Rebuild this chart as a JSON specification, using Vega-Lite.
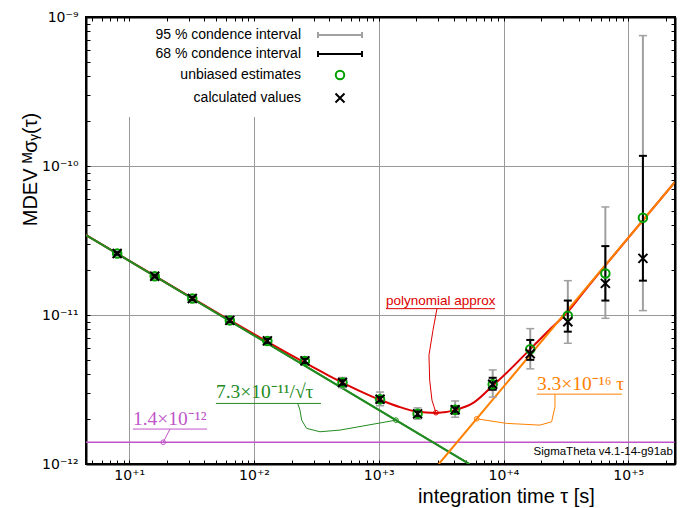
{
  "$schema": "https://vega.github.io/schema/vega-lite/v6.json",
  "width": 589,
  "height": 447,
  "autosize": {"type": "none"},
  "padding": {"left": 86, "top": 17, "right": 8, "bottom": 44},
  "background": "white",
  "config": {
    "view": {"stroke": "black", "strokeWidth": 2},
    "axis": {
      "labelFont": "DejaVu Sans",
      "labelFontSize": 14,
      "labelColor": "black",
      "labelFlush": false,
      "labelOverlap": false,
      "labelBound": false,
      "tickColor": "black",
      "tickWidth": 1,
      "domainColor": "black",
      "domainWidth": 2,
      "gridColor": "#999999",
      "gridWidth": 1
    }
  },
  "datasets": {
    "main": [
      {"tau": 8, "unb": 2.59e-11, "calc": 2.59e-11, "lo95": 2.50e-11, "hi95": 2.68e-11, "lo68": 2.54e-11, "hi68": 2.64e-11},
      {"tau": 16, "unb": 1.82e-11, "calc": 1.82e-11, "lo95": 1.75e-11, "hi95": 1.89e-11, "lo68": 1.79e-11, "hi68": 1.86e-11},
      {"tau": 32, "unb": 1.29e-11, "calc": 1.29e-11, "lo95": 1.23e-11, "hi95": 1.35e-11, "lo68": 1.26e-11, "hi68": 1.32e-11},
      {"tau": 64, "unb": 9.2e-12, "calc": 9.2e-12, "lo95": 8.7e-12, "hi95": 9.7e-12, "lo68": 8.95e-12, "hi68": 9.45e-12},
      {"tau": 128, "unb": 6.7e-12, "calc": 6.7e-12, "lo95": 6.3e-12, "hi95": 7.1e-12, "lo68": 6.5e-12, "hi68": 6.9e-12},
      {"tau": 256, "unb": 4.92e-12, "calc": 4.92e-12, "lo95": 4.6e-12, "hi95": 5.25e-12, "lo68": 4.75e-12, "hi68": 5.1e-12},
      {"tau": 512, "unb": 3.52e-12, "calc": 3.52e-12, "lo95": 3.25e-12, "hi95": 3.8e-12, "lo68": 3.38e-12, "hi68": 3.68e-12},
      {"tau": 1024, "unb": 2.72e-12, "calc": 2.72e-12, "lo95": 2.46e-12, "hi95": 3.04e-12, "lo68": 2.6e-12, "hi68": 2.85e-12},
      {"tau": 2048, "unb": 2.17e-12, "calc": 2.17e-12, "lo95": 2.0e-12, "hi95": 2.38e-12, "lo68": 2.08e-12, "hi68": 2.27e-12},
      {"tau": 4096, "unb": 2.31e-12, "calc": 2.31e-12, "lo95": 2.06e-12, "hi95": 2.65e-12, "lo68": 2.18e-12, "hi68": 2.45e-12},
      {"tau": 8192, "unb": 3.43e-12, "calc": 3.43e-12, "lo95": 2.81e-12, "hi95": 4.28e-12, "lo68": 3.15e-12, "hi68": 3.79e-12},
      {"tau": 16384, "unb": 5.89e-12, "calc": 5.5e-12, "lo95": 4.35e-12, "hi95": 8.1e-12, "lo68": 5.0e-12, "hi68": 6.8e-12},
      {"tau": 32768, "unb": 9.9e-12, "calc": 9.0e-12, "lo95": 6.46e-12, "hi95": 1.70e-11, "lo68": 7.73e-12, "hi68": 1.25e-11},
      {"tau": 65536, "unb": 1.90e-11, "calc": 1.63e-11, "lo95": 9.5e-12, "hi95": 5.31e-11, "lo68": 1.25e-11, "hi68": 2.90e-11},
      {"tau": 131072, "unb": 4.49e-11, "calc": 2.40e-11, "lo95": 1.07e-11, "hi95": 7.5e-10, "lo68": 1.70e-11, "hi68": 1.17e-10}
    ],
    "purple": [{"tau": 4.5, "v": 1.4e-12}, {"tau": 237000, "v": 1.4e-12}],
    "green": [{"tau": 4.5, "v": 3.441e-11}, {"tau": 5329, "v": 1e-12}],
    "orange": [{"tau": 3030, "v": 1e-12}, {"tau": 237000, "v": 7.82e-11}],
    "red": [
      {"tau": 4.5, "v": 3.444e-11}, {"tau": 10, "v": 2.313e-11}, {"tau": 20, "v": 1.638e-11},
      {"tau": 50, "v": 1.042e-11}, {"tau": 100, "v": 7.43e-12}, {"tau": 200, "v": 5.35e-12},
      {"tau": 400, "v": 3.91e-12}, {"tau": 700, "v": 3.10e-12}, {"tau": 1000, "v": 2.72e-12},
      {"tau": 1500, "v": 2.40e-12}, {"tau": 2000, "v": 2.25e-12}, {"tau": 2885, "v": 2.20e-12},
      {"tau": 4096, "v": 2.30e-12}, {"tau": 5760, "v": 2.58e-12}, {"tau": 8192, "v": 3.35e-12},
      {"tau": 11585, "v": 4.4e-12}, {"tau": 16384, "v": 5.9e-12}, {"tau": 23170, "v": 7.9e-12},
      {"tau": 32768, "v": 1.05e-11}, {"tau": 46341, "v": 1.51e-11}, {"tau": 65536, "v": 2.15e-11},
      {"tau": 131072, "v": 4.32e-11}, {"tau": 237000, "v": 7.82e-11}
    ],
    "annlines": [
      {"a": "poly", "seg": "u", "o": 1, "tau": 1142, "v": 1.103e-11},
      {"a": "poly", "seg": "u", "o": 2, "tau": 8530, "v": 1.103e-11},
      {"a": "poly", "seg": "c", "o": 1, "tau": 2928, "v": 1.103e-11},
      {"a": "poly", "seg": "c", "o": 2, "tau": 2720, "v": 7.89e-12},
      {"a": "poly", "seg": "c", "o": 3, "tau": 2526, "v": 5.37e-12},
      {"a": "poly", "seg": "c", "o": 4, "tau": 2560, "v": 3.65e-12},
      {"a": "poly", "seg": "c", "o": 5, "tau": 2670, "v": 2.68e-12},
      {"a": "poly", "seg": "c", "o": 6, "tau": 2874, "v": 2.21e-12},
      {"a": "green", "seg": "u", "o": 1, "tau": 49.5, "v": 2.55e-12},
      {"a": "green", "seg": "u", "o": 2, "tau": 344, "v": 2.55e-12},
      {"a": "green", "seg": "c", "o": 1, "tau": 223.9, "v": 2.55e-12},
      {"a": "green", "seg": "c", "o": 2, "tau": 233.6, "v": 2.30e-12},
      {"a": "green", "seg": "c", "o": 3, "tau": 241, "v": 1.97e-12},
      {"a": "green", "seg": "c", "o": 4, "tau": 264, "v": 1.734e-12},
      {"a": "green", "seg": "c", "o": 5, "tau": 338, "v": 1.646e-12},
      {"a": "green", "seg": "c", "o": 6, "tau": 489, "v": 1.689e-12},
      {"a": "green", "seg": "c", "o": 7, "tau": 1373, "v": 1.97e-12},
      {"a": "purple", "seg": "u", "o": 1, "tau": 10.7, "v": 1.716e-12},
      {"a": "purple", "seg": "u", "o": 2, "tau": 42.0, "v": 1.716e-12},
      {"a": "purple", "seg": "c", "o": 1, "tau": 21.2, "v": 1.716e-12},
      {"a": "purple", "seg": "c", "o": 2, "tau": 18.7, "v": 1.40e-12},
      {"a": "orange", "seg": "u", "o": 1, "tau": 18540, "v": 2.943e-12},
      {"a": "orange", "seg": "u", "o": 2, "tau": 89000, "v": 2.943e-12},
      {"a": "orange", "seg": "c", "o": 1, "tau": 25850, "v": 2.943e-12},
      {"a": "orange", "seg": "c", "o": 2, "tau": 25850, "v": 2.419e-12},
      {"a": "orange", "seg": "c", "o": 3, "tau": 24310, "v": 1.92e-12},
      {"a": "orange", "seg": "c", "o": 4, "tau": 19600, "v": 1.824e-12},
      {"a": "orange", "seg": "c", "o": 5, "tau": 10600, "v": 1.873e-12},
      {"a": "orange", "seg": "c", "o": 6, "tau": 6094, "v": 2.011e-12}
    ],
    "annmarks": [
      {"a": "poly", "tau": 2874, "v": 2.21e-12},
      {"a": "green", "tau": 1373, "v": 1.97e-12},
      {"a": "purple", "tau": 18.7, "v": 1.40e-12},
      {"a": "orange", "tau": 6094, "v": 2.011e-12}
    ],
    "anntext": [
      {"a": "poly", "tau": 1142, "v": 1.161e-11, "label": "polynomial approx"},
      {"a": "green", "tau": 49.5, "v": 2.767e-12, "label": "7.3×10⁻¹¹/√τ"},
      {"a": "purple", "tau": 10.7, "v": 1.824e-12, "label": "1.4×10⁻¹²"},
      {"a": "orange", "tau": 18540, "v": 3.13e-12, "label": "3.3×10⁻¹⁶ τ"},
      {"a": "sig", "tau": 228000, "v": 1.149e-12, "label": "SigmaTheta v4.1-14-g91ab"}
    ]
  },
  "resolve": {"axis": {"x": "independent", "y": "independent"}},
  "layer": [
    {
      "data": {"name": "purple"},
      "mark": {"type": "line", "color": "#c055c8", "strokeWidth": 1.5, "clip": true},
      "encoding": {
        "x": {
          "field": "tau", "type": "quantitative",
          "scale": {"type": "log", "domain": [4.5, 237000], "nice": false},
          "axis": {
            "orient": "bottom", "zindex": 0,
            "values": [5,6,7,8,9,10,20,30,40,50,60,70,80,90,100,200,300,400,500,600,700,800,900,1000,2000,3000,4000,5000,6000,7000,8000,9000,10000,20000,30000,40000,50000,60000,70000,80000,90000,100000,200000],
            "labelExpr": "datum.value == 10 ? '10⁺¹' : datum.value == 100 ? '10⁺²' : datum.value == 1000 ? '10⁺³' : datum.value == 10000 ? '10⁺⁴' : datum.value == 100000 ? '10⁺⁵' : ''",
            "grid": true,
            "gridOpacity": {"condition": {"test": "abs(log(datum.value)/LN10 - round(log(datum.value)/LN10)) < 0.001", "value": 1}, "value": 0},
            "tickSize": -4,
            "labelPadding": 8,
            "title": "integration time τ [s]",
            "titleFont": "Liberation Sans",
            "titleFontSize": 20,
            "titleFontWeight": "normal",
            "titleColor": "black",
            "titleX": 420,
            "titleY": 38,
            "titleAlign": "center",
            "titleBaseline": "alphabetic"
          }
        },
        "y": {
          "field": "v", "type": "quantitative",
          "scale": {"type": "log", "domain": [1e-12, 1e-9], "nice": false},
          "axis": {
            "orient": "left", "zindex": 0,
            "values": [1e-12,2e-12,3e-12,4e-12,5e-12,6e-12,7e-12,8e-12,9e-12,1e-11,2e-11,3e-11,4e-11,5e-11,6e-11,7e-11,8e-11,9e-11,1e-10,2e-10,3e-10,4e-10,5e-10,6e-10,7e-10,8e-10,9e-10,1e-9],
            "labelExpr": "datum.value == 1e-12 ? '10⁻¹²' : datum.value == 1e-11 ? '10⁻¹¹' : datum.value == 1e-10 ? '10⁻¹⁰' : datum.value == 1e-9 ? '10⁻⁹' : ''",
            "grid": true,
            "gridOpacity": {"condition": {"test": "abs(log(datum.value)/LN10 - round(log(datum.value)/LN10)) < 0.001", "value": 1}, "value": 0},
            "tickSize": -4,
            "labelPadding": 12,
            "title": "MDEV  ᴹσᵧ(τ)",
            "titleFont": "Liberation Sans",
            "titleFontSize": 20,
            "titleFontWeight": "normal",
            "titleColor": "black",
            "titleX": -56,
            "titleY": 152,
            "titleAngle": -90,
            "titleAlign": "center",
            "titleBaseline": "middle"
          }
        }
      }
    },
    {
      "data": {"name": "green"},
      "mark": {"type": "line", "color": "#228b22", "strokeWidth": 2, "clip": true},
      "encoding": {
        "x": {
          "field": "tau", "type": "quantitative",
          "axis": {
            "orient": "top", "zindex": 1,
            "values": [5,6,7,8,9,10,20,30,40,50,60,70,80,90,100,200,300,400,500,600,700,800,900,1000,2000,3000,4000,5000,6000,7000,8000,9000,10000,20000,30000,40000,50000,60000,70000,80000,90000,100000,200000],
            "labels": false, "grid": false, "tickSize": -4, "title": null
          }
        },
        "y": {
          "field": "v", "type": "quantitative",
          "axis": {
            "orient": "right", "zindex": 1,
            "values": [1e-12,2e-12,3e-12,4e-12,5e-12,6e-12,7e-12,8e-12,9e-12,1e-11,2e-11,3e-11,4e-11,5e-11,6e-11,7e-11,8e-11,9e-11,1e-10,2e-10,3e-10,4e-10,5e-10,6e-10,7e-10,8e-10,9e-10,1e-9],
            "labels": false, "grid": false, "tickSize": -4, "title": null
          }
        }
      }
    },
    {
      "data": {"name": "red"},
      "mark": {"type": "line", "color": "#dd0000", "strokeWidth": 2, "interpolate": "monotone", "clip": true},
      "encoding": {
        "x": {"field": "tau", "type": "quantitative", "axis": null},
        "y": {"field": "v", "type": "quantitative", "axis": null}
      }
    },
    {
      "data": {"name": "green"},
      "mark": {"type": "line", "color": "#228b22", "strokeWidth": 2, "clip": true},
      "encoding": {
        "x": {"field": "tau", "type": "quantitative", "axis": null},
        "y": {"field": "v", "type": "quantitative", "axis": null}
      }
    },
    {
      "data": {"name": "orange"},
      "mark": {"type": "line", "color": "#ff8000", "strokeWidth": 2, "clip": true},
      "encoding": {
        "x": {"field": "tau", "type": "quantitative", "axis": null},
        "y": {"field": "v", "type": "quantitative", "axis": null}
      }
    },
    {
      "data": {"name": "main"},
      "mark": {"type": "rule", "color": "#a0a0a0", "strokeWidth": 2},
      "encoding": {
        "x": {"field": "tau", "type": "quantitative", "axis": null},
        "y": {"field": "lo95", "type": "quantitative", "axis": null},
        "y2": {"field": "hi95"}
      }
    },
    {
      "data": {"name": "main"},
      "mark": {"type": "tick", "orient": "horizontal", "color": "#a0a0a0", "size": 8, "thickness": 1.5, "opacity": 1},
      "encoding": {
        "x": {"field": "tau", "type": "quantitative", "axis": null},
        "y": {"field": "lo95", "type": "quantitative", "axis": null}
      }
    },
    {
      "data": {"name": "main"},
      "mark": {"type": "tick", "orient": "horizontal", "color": "#a0a0a0", "size": 8, "thickness": 1.5, "opacity": 1},
      "encoding": {
        "x": {"field": "tau", "type": "quantitative", "axis": null},
        "y": {"field": "hi95", "type": "quantitative", "axis": null}
      }
    },
    {
      "data": {"name": "main"},
      "mark": {"type": "rule", "color": "black", "strokeWidth": 2},
      "encoding": {
        "x": {"field": "tau", "type": "quantitative", "axis": null},
        "y": {"field": "lo68", "type": "quantitative", "axis": null},
        "y2": {"field": "hi68"}
      }
    },
    {
      "data": {"name": "main"},
      "mark": {"type": "tick", "orient": "horizontal", "color": "black", "size": 8, "thickness": 2, "opacity": 1},
      "encoding": {
        "x": {"field": "tau", "type": "quantitative", "axis": null},
        "y": {"field": "lo68", "type": "quantitative", "axis": null}
      }
    },
    {
      "data": {"name": "main"},
      "mark": {"type": "tick", "orient": "horizontal", "color": "black", "size": 8, "thickness": 2, "opacity": 1},
      "encoding": {
        "x": {"field": "tau", "type": "quantitative", "axis": null},
        "y": {"field": "hi68", "type": "quantitative", "axis": null}
      }
    },
    {
      "data": {"name": "main"},
      "mark": {"type": "point", "filled": false, "size": 100, "strokeWidth": 2, "opacity": 1},
      "encoding": {
        "x": {"field": "tau", "type": "quantitative", "axis": null},
        "y": {"field": "unb", "type": "quantitative", "axis": null},
        "color": {
          "datum": "unbiased estimates", "type": "nominal",
          "scale": {
            "domain": ["95 % condence interval", "68 % condence interval", "unbiased estimates", "calculated values"],
            "range": ["#a0a0a0", "black", "#00a000", "black"]
          },
          "legend": {
            "title": null, "orient": "none", "legendX": 16, "legendY": 1,
            "direction": "vertical", "fillColor": "white", "padding": 10,
            "labelFont": "Liberation Sans", "labelFontSize": 14, "labelColor": "black",
            "labelAlign": "right", "labelOffset": -46, "symbolOffset": 221, "labelLimit": 400,
            "symbolSize": 100, "symbolStrokeWidth": 2, "symbolFillColor": "transparent",
            "rowPadding": 5
          }
        },
        "shape": {
          "datum": "unbiased estimates", "type": "nominal",
          "scale": {
            "domain": ["95 % condence interval", "68 % condence interval", "unbiased estimates", "calculated values"],
            "range": [
              "M-4.4,0L4.4,0M-4.4,-0.6L-4.4,0.6M4.4,-0.6L4.4,0.6",
              "M-4.4,0L4.4,0M-4.4,-0.6L-4.4,0.6M4.4,-0.6L4.4,0.6",
              "M-0.85,0A0.85,0.85,0,1,1,0.85,0A0.85,0.85,0,1,1,-0.85,0Z",
              "M-0.9,-0.9L0.9,0.9M-0.9,0.9L0.9,-0.9"
            ]
          },
          "legend": {
            "title": null, "orient": "none", "legendX": 16, "legendY": 1,
            "direction": "vertical", "fillColor": "white", "padding": 10,
            "labelFont": "Liberation Sans", "labelFontSize": 14, "labelColor": "black",
            "labelAlign": "right", "labelOffset": -46, "symbolOffset": 221, "labelLimit": 400,
            "symbolSize": 100, "symbolStrokeWidth": 2, "symbolFillColor": "transparent",
            "rowPadding": 5
          }
        }
      }
    },
    {
      "data": {"name": "main"},
      "mark": {"type": "point", "filled": false, "size": 100, "strokeWidth": 2, "opacity": 1},
      "encoding": {
        "x": {"field": "tau", "type": "quantitative", "axis": null},
        "y": {"field": "calc", "type": "quantitative", "axis": null},
        "color": {"datum": "calculated values", "type": "nominal"},
        "shape": {"datum": "calculated values", "type": "nominal"}
      }
    },
    {
      "data": {"name": "annlines"},
      "transform": [{"filter": "datum.a == 'poly'"}],
      "mark": {"type": "line", "color": "#dd0000", "strokeWidth": 1},
      "encoding": {
        "x": {"field": "tau", "type": "quantitative", "axis": null},
        "y": {"field": "v", "type": "quantitative", "axis": null},
        "detail": {"field": "seg"},
        "order": {"field": "o"}
      }
    },
    {
      "data": {"name": "annlines"},
      "transform": [{"filter": "datum.a == 'green'"}],
      "mark": {"type": "line", "color": "#228b22", "strokeWidth": 1},
      "encoding": {
        "x": {"field": "tau", "type": "quantitative", "axis": null},
        "y": {"field": "v", "type": "quantitative", "axis": null},
        "detail": {"field": "seg"},
        "order": {"field": "o"}
      }
    },
    {
      "data": {"name": "annlines"},
      "transform": [{"filter": "datum.a == 'purple'"}],
      "mark": {"type": "line", "color": "#c055c8", "strokeWidth": 1},
      "encoding": {
        "x": {"field": "tau", "type": "quantitative", "axis": null},
        "y": {"field": "v", "type": "quantitative", "axis": null},
        "detail": {"field": "seg"},
        "order": {"field": "o"}
      }
    },
    {
      "data": {"name": "annlines"},
      "transform": [{"filter": "datum.a == 'orange'"}],
      "mark": {"type": "line", "color": "#ff8000", "strokeWidth": 1},
      "encoding": {
        "x": {"field": "tau", "type": "quantitative", "axis": null},
        "y": {"field": "v", "type": "quantitative", "axis": null},
        "detail": {"field": "seg"},
        "order": {"field": "o"}
      }
    },
    {
      "data": {"name": "annmarks"},
      "transform": [{"filter": "datum.a == 'poly'"}],
      "mark": {"type": "point", "shape": "circle", "filled": false, "size": 22, "strokeWidth": 1, "color": "#dd0000", "opacity": 1},
      "encoding": {
        "x": {"field": "tau", "type": "quantitative", "axis": null},
        "y": {"field": "v", "type": "quantitative", "axis": null}
      }
    },
    {
      "data": {"name": "annmarks"},
      "transform": [{"filter": "datum.a == 'green'"}],
      "mark": {"type": "point", "shape": "circle", "filled": false, "size": 22, "strokeWidth": 1, "color": "#228b22", "opacity": 1},
      "encoding": {
        "x": {"field": "tau", "type": "quantitative", "axis": null},
        "y": {"field": "v", "type": "quantitative", "axis": null}
      }
    },
    {
      "data": {"name": "annmarks"},
      "transform": [{"filter": "datum.a == 'purple'"}],
      "mark": {"type": "point", "shape": "circle", "filled": false, "size": 22, "strokeWidth": 1, "color": "#c055c8", "opacity": 1},
      "encoding": {
        "x": {"field": "tau", "type": "quantitative", "axis": null},
        "y": {"field": "v", "type": "quantitative", "axis": null}
      }
    },
    {
      "data": {"name": "annmarks"},
      "transform": [{"filter": "datum.a == 'orange'"}],
      "mark": {"type": "point", "shape": "circle", "filled": false, "size": 22, "strokeWidth": 1, "color": "#ff8000", "opacity": 1},
      "encoding": {
        "x": {"field": "tau", "type": "quantitative", "axis": null},
        "y": {"field": "v", "type": "quantitative", "axis": null}
      }
    },
    {
      "data": {"name": "anntext"},
      "transform": [{"filter": "datum.a == 'poly'"}],
      "mark": {"type": "text", "align": "left", "baseline": "alphabetic", "font": "Liberation Sans", "fontSize": 13.5, "color": "#dd0000"},
      "encoding": {
        "x": {"field": "tau", "type": "quantitative", "axis": null},
        "y": {"field": "v", "type": "quantitative", "axis": null},
        "text": {"field": "label"}
      }
    },
    {
      "data": {"name": "anntext"},
      "transform": [{"filter": "datum.a == 'green'"}],
      "mark": {"type": "text", "align": "left", "baseline": "alphabetic", "font": "Liberation Serif", "fontSize": 19.5, "color": "#228b22"},
      "encoding": {
        "x": {"field": "tau", "type": "quantitative", "axis": null},
        "y": {"field": "v", "type": "quantitative", "axis": null},
        "text": {"field": "label"}
      }
    },
    {
      "data": {"name": "anntext"},
      "transform": [{"filter": "datum.a == 'purple'"}],
      "mark": {"type": "text", "align": "left", "baseline": "alphabetic", "font": "Liberation Serif", "fontSize": 19.5, "color": "#c055c8"},
      "encoding": {
        "x": {"field": "tau", "type": "quantitative", "axis": null},
        "y": {"field": "v", "type": "quantitative", "axis": null},
        "text": {"field": "label"}
      }
    },
    {
      "data": {"name": "anntext"},
      "transform": [{"filter": "datum.a == 'orange'"}],
      "mark": {"type": "text", "align": "left", "baseline": "alphabetic", "font": "Liberation Serif", "fontSize": 19.5, "color": "#ff8000"},
      "encoding": {
        "x": {"field": "tau", "type": "quantitative", "axis": null},
        "y": {"field": "v", "type": "quantitative", "axis": null},
        "text": {"field": "label"}
      }
    },
    {
      "data": {"name": "anntext"},
      "transform": [{"filter": "datum.a == 'sig'"}],
      "mark": {"type": "text", "align": "right", "baseline": "alphabetic", "font": "Liberation Sans", "fontSize": 11.5, "color": "black"},
      "encoding": {
        "x": {"field": "tau", "type": "quantitative", "axis": null},
        "y": {"field": "v", "type": "quantitative", "axis": null},
        "text": {"field": "label"}
      }
    }
  ]
}
